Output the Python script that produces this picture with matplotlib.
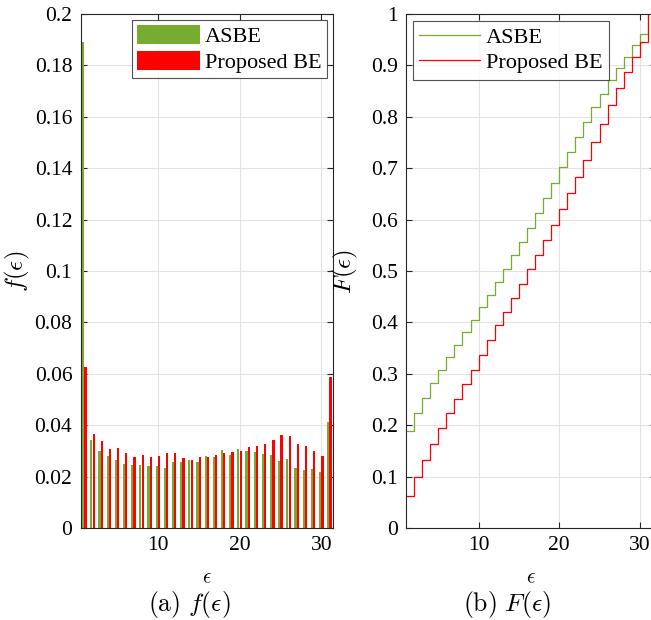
import numpy as np
import matplotlib
matplotlib.use("Agg")
import matplotlib.pyplot as plt
from matplotlib.ticker import FuncFormatter

plt.rcParams['font.family'] = ['Liberation Serif', 'DejaVu Serif']
plt.rcParams['mathtext.fontset'] = 'cm'

eps = np.arange(1, 32)
pdf_asbe = [0.189, 0.0342, 0.0301, 0.0280, 0.0263, 0.0249, 0.0245, 0.0244, 0.0241, 0.0241,
            0.0235, 0.0257, 0.0257, 0.0263, 0.0257, 0.0280, 0.0275, 0.0304, 0.0284, 0.0309,
            0.0300, 0.0297, 0.0287, 0.0284, 0.0259, 0.0270, 0.0235, 0.0224, 0.0228, 0.0219,
            0.0411]
pdf_prop = [0.0625, 0.0365, 0.0340, 0.0307, 0.0311, 0.0291, 0.0278, 0.0285, 0.0276, 0.0279,
            0.0292, 0.0291, 0.0272, 0.0266, 0.0276, 0.0278, 0.0283, 0.0292, 0.0297, 0.0298,
            0.0316, 0.0319, 0.0326, 0.0342, 0.0361, 0.0357, 0.0328, 0.0320, 0.0301, 0.0280,
            0.0588]
labels = ['ASBE', 'Proposed BE']

green = '#77AC30'
red = '#FF0000'
spine_c = '#262626'
grid_c = '#E3E3E3'

fig = plt.figure(figsize=(6.51, 6.2), dpi=100)
W, H = 651, 620

def style(ax):
    for s in ax.spines.values():
        s.set_color(spine_c)
        s.set_linewidth(0.8)
    ax.tick_params(direction='in', length=4, width=0.8, colors=spine_c,
                   top=True, right=True, labelsize=15.5, labelcolor='black', pad=6)
    ax.grid(True, color=grid_c, linewidth=0.8)
    ax.set_axisbelow(True)

fmt = FuncFormatter(lambda v, p: ('%g' % round(v, 4)))

# left axes
ax1_w = 333 - 80.7
ax1 = fig.add_axes([80.7 / W, (H - 528) / H, ax1_w / W, 514 / H])
style(ax1)
bw = 0.27
ax1.bar(eps - 0.145, pdf_asbe, width=bw, color=green, label=labels[0], linewidth=0)
ax1.bar(eps + 0.145, pdf_prop, width=bw, color=red, label=labels[1], linewidth=0)
ax1.set_xlim(0.56, 31.44)
ax1.set_ylim(0, 0.2)
ax1.set_xticks([10, 20, 30])
ax1.set_yticks(np.arange(0, 0.2001, 0.02))
ax1.yaxis.set_major_formatter(fmt)
ax1.set_xlabel(r'$\epsilon$', fontsize=15, labelpad=10)
ax1.set_ylabel(r'$f(\epsilon)$', fontsize=18)
ax1.yaxis.set_label_coords((32 - 80.7) / ax1_w, 0.5)
leg1 = ax1.legend(loc='upper right', fontsize=16, frameon=True, fancybox=False,
                  handlelength=2.8, handleheight=0.95, borderpad=0.25, labelspacing=0.15,
                  handletextpad=0.25, borderaxespad=0.25)
leg1.get_frame().set_edgecolor(spine_c)
leg1.get_frame().set_linewidth(0.8)

# right axes
ax2_w = 250
ax2 = fig.add_axes([406 / W, (H - 528) / H, ax2_w / W, 514 / H])
style(ax2)
cdf_asbe = np.cumsum(pdf_asbe)
cdf_prop = np.cumsum(pdf_prop)
xs = np.append(eps, eps[-1] + 1)
ax2.step(xs, np.append(cdf_asbe, cdf_asbe[-1]), where='post', color=green, lw=0.9, label=labels[0])
ax2.step(xs, np.append(cdf_prop, cdf_prop[-1]), where='post', color=red, lw=0.9, label=labels[1])
ax2.set_xlim(1, 32)
ax2.set_ylim(0, 1)
ax2.set_xticks([10, 20, 30])
ax2.set_yticks(np.arange(0, 1.001, 0.1))
ax2.yaxis.set_major_formatter(fmt)
ax2.set_xlabel(r'$\epsilon$', fontsize=15, labelpad=10)
ax2.set_ylabel(r'$F(\epsilon)$', fontsize=18)
ax2.yaxis.set_label_coords((360 - 406) / ax2_w, 0.5)
leg2 = ax2.legend(loc='upper left', fontsize=16, frameon=True, fancybox=False,
                  handlelength=2.75, borderpad=0.3, labelspacing=0.2,
                  handletextpad=0.25, borderaxespad=0.3)
leg2.get_frame().set_edgecolor(spine_c)
leg2.get_frame().set_linewidth(0.8)

fig.text(189 / W, 1 - 605 / H, r'$\mathrm{(a)}\ f(\epsilon)$', ha='center', va='center', fontsize=18.5)
fig.text(507 / W, 1 - 605 / H, r'$\mathrm{(b)}\ F(\epsilon)$', ha='center', va='center', fontsize=18.5)

fig.savefig('out.png', dpi=100)
